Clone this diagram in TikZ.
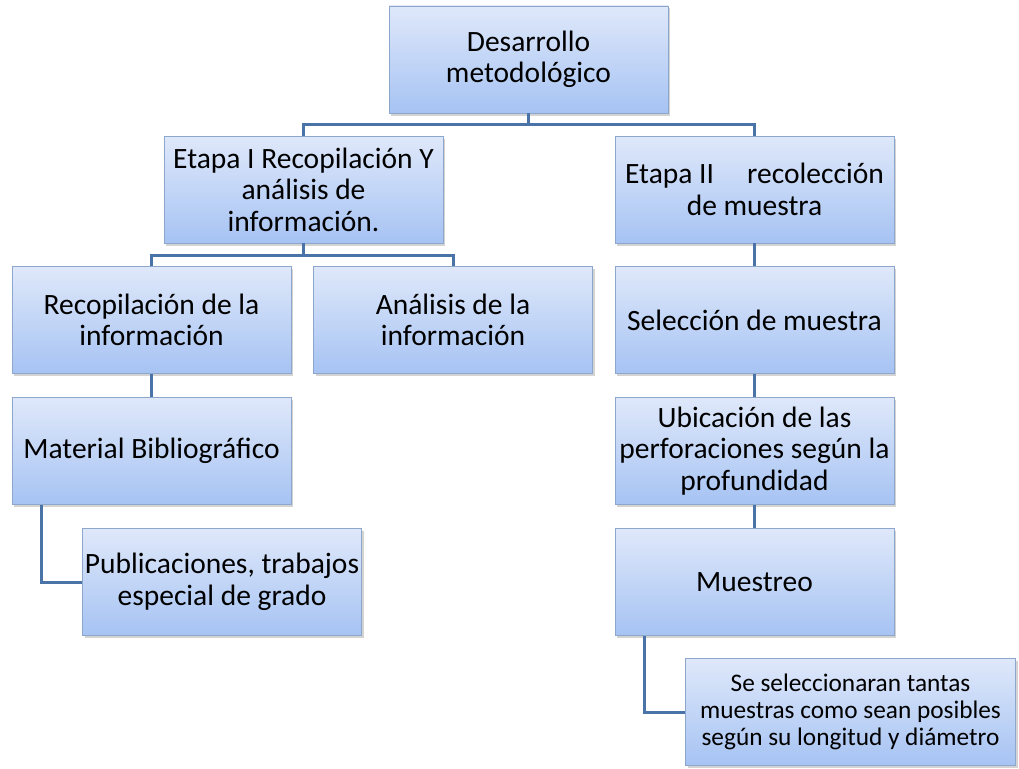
\documentclass[tikz,border=0pt]{standalone}
\usepackage{fontspec}
\setmainfont{Carlito}
\usetikzlibrary{shadows}
\definecolor{boxtop}{HTML}{DFE8FA}
\definecolor{boxbot}{HTML}{A6C3F3}
\definecolor{boxline}{HTML}{8DA6CC}
\definecolor{conn}{HTML}{4A74A8}
\tikzset{
  box/.style={draw=boxline, line width=0.8pt, top color=boxtop, bottom color=boxbot,
    minimum width=279pt, minimum height=107pt, align=center, inner sep=2pt,
    font=\fontsize{29.5}{31.5}\selectfont,
    drop shadow={shadow xshift=2pt, shadow yshift=-2.5pt, opacity=0.35}},
  conn/.style={draw=conn, line width=3pt}
}
\begin{document}
\begin{tikzpicture}[x=1pt,y=-1pt]
\useasboundingbox (0,0) rectangle (1019,768);
\node[box] (top) at (528.5,59.5) {Desarrollo\\metodológico};
\node[box] (e1) at (303.5,189.5) {Etapa I Recopilación Y\\análisis de\\información.};
\node[box] (e2) at (754.5,189.5) {Etapa II\hspace{0.9em} recolección\\de muestra};
\node[box] (rec) at (151.5,320) {Recopilación de la\\información};
\node[box] (ana) at (453,320) {Análisis de la\\información};
\node[box] (sel) at (754.5,320) {Selección de muestra};
\node[box] (mat) at (151.5,451) {Material Bibliográfico};
\node[box] (pub) at (222,582) {Publicaciones, trabajos\\especial de grado};
\node[box] (ubi) at (754.5,451) {Ubicación de las\\perforaciones según la\\profundidad};
\node[box] (mue) at (754.5,582) {Muestreo};
\node[box, minimum width=330pt, font=\fontsize{25.3}{27}\selectfont] (ses) at (850.5,712) {Se seleccionaran tantas\\muestras como sean posibles\\según su longitud y diámetro};

\coordinate (j1) at (528.5,124);
\coordinate (j2) at (303.5,255);
\draw[conn] (top.south) -- (j1);
\draw[conn] (e1.north) |- (j1) -| (e2.north);
\draw[conn] (e1.south) -- (j2);
\draw[conn] (rec.north) |- (j2) -| (ana.north);
\draw[conn] (rec.south) -- (mat.north);
\draw[conn] (e2.south) -- (sel.north);
\draw[conn] (sel.south) -- (ubi.north);
\draw[conn] (ubi.south) -- (mue.north);
\draw[conn] ([xshift=-110.5pt]mat.south) |- (pub.west);
\draw[conn] ([xshift=-110.5pt]mue.south) |- (ses.west);
\end{tikzpicture}
\end{document}
